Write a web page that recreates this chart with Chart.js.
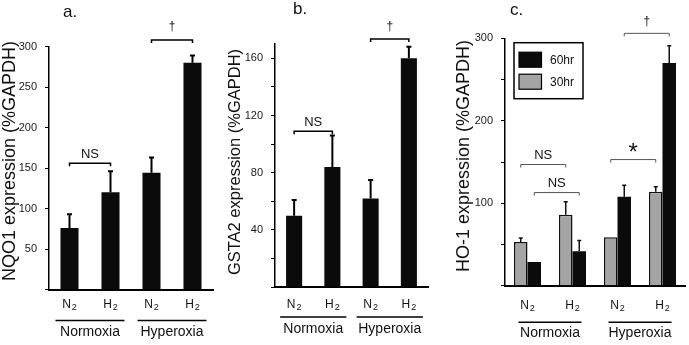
<!DOCTYPE html>
<html lang="en">
<head>
<meta charset="UTF-8">
<title>NQO1, GSTA2 and HO-1 expression</title>
<script src="https://cdn.jsdelivr.net/npm/chart.js"></script>
<style>
    body { margin: 0; background: #fff; }
    #wrap { position: relative; width: 689px; height: 345px; overflow: hidden; }
    #wrap canvas { position: absolute; top: 0; }
</style>
</head>
<body>
<div id="wrap">
    <canvas id="panelA" width="228" height="345" style="left:0"></canvas>
    <canvas id="panelB" width="227" height="345" style="left:228px"></canvas>
    <canvas id="panelC" width="234" height="345" style="left:455px"></canvas>
</div>
<script>
// categories
const conditions = ['N2', 'H2', 'N2', 'H2'];
const groupNames = ['Normoxia', 'Hyperoxia'];

// a. NQO1 (% GAPDH), mean and SEM
const nqo1Mean = [76, 120, 144, 280];
const nqo1Sem = [17, 26, 19, 9];

// b. GSTA2
const gsta2Mean = [50, 84, 62, 160];
const gsta2Sem = [11, 22, 13, 8];

// c. HO-1, two time points
const ho1Mean30 = [53, 86, 59, 114];
const ho1Sem30 = [5, 16, 0, 6];
const ho1Mean60 = [29, 42, 108, 270];
const ho1Sem60 = [0, 13, 14, 21];

// y tick labels shown on each panel
const tickLabelsA = [50, 100, 150, 200, 250, 300];
const tickLabelsB = [40, 80, 120, 160];
const tickLabelsC = [100, 200, 300];

const FONT = '"Liberation Sans", Arial, Helvetica, sans-serif';

// extra drawing per panel (titles, brackets, group labels)
const panels = {
    panelA: {
        yTitle: 'NQO1 expression (%GAPDH)', titleSize: 18, titleX: 10, titleY: 161,
        letter: 'a.', letterX: 63, letterY: 17,
        labelY: 305, lineY: 320.5, groupY: 332, ext: 14,
        errColor: '#000', errWidth: 2, capHalf: 2.5,
        bracketColor: '#000', bracketWidth: 1.5,
        brackets: [
            { ds: 0, from: 0, to: 1, at: 156, text: 'NS', size: 13, dy: 9 },
            { ds: 0, from: 2, to: 3, at: 308, text: '†', size: 12, dy: 13 }
        ]
    },
    panelB: {
        yTitle: 'GSTA2 expression (%GAPDH)', titleSize: 16.5, titleX: 7.5, titleY: 162,
        letter: 'b.', letterX: 65, letterY: 14,
        labelY: 305, lineY: 317, groupY: 329, ext: 14,
        errColor: '#000', errWidth: 2, capHalf: 2.5,
        bracketColor: '#000', bracketWidth: 1.5,
        brackets: [
            { ds: 0, from: 0, to: 1, at: 109, text: 'NS', size: 13, dy: 9 },
            { ds: 0, from: 2, to: 3, at: 173.5, text: '†', size: 12, dy: 12 }
        ]
    },
    panelC: {
        yTitle: 'HO-1 expression (%GAPDH)', titleSize: 18, titleX: 9, titleY: 156,
        letter: 'c.', letterX: 55, letterY: 15,
        labelY: 306, lineY: 322.3, groupY: 333.3, ext: 9,
        errColor: '#111', errWidth: 1.5, capHalf: 2,
        bracketColor: '#555', bracketWidth: 1,
        brackets: [
            { ds: 0, from: 0, to: 1, at: 147, text: 'NS', size: 13, dy: 9 },
            { ds: 1, from: 0, to: 1, at: 113, text: 'NS', size: 13, dy: 9 },
            { ds: 0, from: 2, to: 3, at: 153, text: '*', size: 24, dy: 6 },
            { ds: 1, from: 2, to: 3, at: 306, text: '†', size: 12, dy: 12 }
        ],
        legend: { x: 59, y: 42.7, w: 69, h: 56 }
    }
};

function drawSub(ctx, label, cx, cy) {
    const base = label.slice(0, 1), sub = label.slice(1);
    ctx.font = '12px ' + FONT;
    const wb = ctx.measureText(base).width;
    ctx.font = '9px ' + FONT;
    const ws = ctx.measureText(sub).width;
    const left = cx - (wb + ws + 1) / 2;
    ctx.textAlign = 'left';
    ctx.textBaseline = 'middle';
    ctx.font = '12px ' + FONT;
    ctx.fillText(base, left, cy);
    ctx.font = '9px ' + FONT;
    ctx.fillText(sub, left + wb + 1, cy + 3);
}

const annotate = {
    id: 'annotate',
    afterDatasetsDraw(chart) {
        const p = panels[chart.canvas.id];
        const ctx = chart.ctx;
        const xs = chart.scales.x, ys = chart.scales.y;
        ctx.save();
        ctx.fillStyle = '#111';

        // error bars (upper whisker only)
        chart.data.datasets.forEach((ds, d) => {
            const meta = chart.getDatasetMeta(d);
            ds.data.forEach((v, i) => {
                if (!ds.sem[i]) return;
                const bar = meta.data[i];
                const top = ys.getPixelForValue(v + ds.sem[i]);
                ctx.strokeStyle = p.errColor;
                ctx.lineWidth = p.errWidth;
                ctx.beginPath();
                ctx.moveTo(bar.x, bar.y);
                ctx.lineTo(bar.x, top);
                ctx.moveTo(bar.x - p.capHalf, top);
                ctx.lineTo(bar.x + p.capHalf, top);
                ctx.stroke();
            });
        });

        // significance brackets
        p.brackets.forEach(b => {
            const meta = chart.getDatasetMeta(b.ds);
            const x1 = meta.data[b.from].x, x2 = meta.data[b.to].x;
            const y = ys.getPixelForValue(b.at);
            ctx.strokeStyle = p.bracketColor;
            ctx.lineWidth = p.bracketWidth;
            ctx.beginPath();
            ctx.moveTo(x1, y + 3);
            ctx.lineTo(x1, y);
            ctx.lineTo(x2, y);
            ctx.lineTo(x2, y + 3);
            ctx.stroke();
            ctx.font = b.size + 'px ' + FONT;
            ctx.textAlign = 'center';
            ctx.textBaseline = 'middle';
            ctx.fillText(b.text, (x1 + x2) / 2, y - b.dy);
        });

        // condition labels N2 / H2
        conditions.forEach((c, i) => drawSub(ctx, c, xs.getPixelForValue(i), p.labelY));

        // group lines and names
        groupNames.forEach((g, k) => {
            const xa = xs.getPixelForValue(2 * k), xb = xs.getPixelForValue(2 * k + 1);
            ctx.strokeStyle = '#000';
            ctx.lineWidth = 1.5;
            ctx.beginPath();
            ctx.moveTo(xa - p.ext, p.lineY);
            ctx.lineTo(xb + p.ext, p.lineY);
            ctx.stroke();
            ctx.font = '14px ' + FONT;
            ctx.textAlign = 'center';
            ctx.textBaseline = 'middle';
            ctx.fillText(g, (xa + xb) / 2, p.groupY);
        });

        // panel letter
        ctx.font = '17px ' + FONT;
        ctx.textAlign = 'left';
        ctx.textBaseline = 'alphabetic';
        ctx.fillText(p.letter, p.letterX, p.letterY);

        // y axis title
        ctx.save();
        ctx.translate(p.titleX, p.titleY);
        ctx.rotate(-Math.PI / 2);
        ctx.font = p.titleSize + 'px ' + FONT;
        ctx.textAlign = 'center';
        ctx.textBaseline = 'middle';
        ctx.fillText(p.yTitle, 0, 0);
        ctx.restore();

        // legend box (panel c)
        if (p.legend) {
            const L = p.legend;
            ctx.strokeStyle = '#000';
            ctx.lineWidth = 1.5;
            ctx.strokeRect(L.x, L.y, L.w, L.h);
            const items = chart.data.datasets.slice().reverse();
            items.forEach((ds, k) => {
                const sy = L.y + 9.5 + k * 22;
                ctx.fillStyle = ds.backgroundColor;
                ctx.fillRect(L.x + 5, sy, 22.5, 15);
                ctx.lineWidth = 1.2;
                ctx.strokeRect(L.x + 5, sy, 22.5, 15);
                ctx.fillStyle = '#111';
                ctx.font = '12px ' + FONT;
                ctx.textAlign = 'left';
                ctx.textBaseline = 'middle';
                ctx.fillText(ds.label, L.x + 36, sy + 8);
            });
        }
        ctx.restore();
    }
};

function makeChart(id, datasets, o) {
    return new Chart(document.getElementById(id), {
        type: 'bar',
        data: { labels: conditions, datasets: datasets },
        options: {
            responsive: false,
            animation: false,
            devicePixelRatio: 1,
            layout: { padding: o.padding },
            datasets: { bar: { barPercentage: o.barPct, categoryPercentage: o.catPct } },
            plugins: { legend: { display: false }, tooltip: { enabled: false } },
            scales: {
                x: {
                    grid: { display: false },
                    border: { display: true, color: '#000', width: 2 },
                    ticks: { display: false },
                    afterFit: s => { s.height = o.xHeight; }
                },
                y: {
                    min: 0,
                    max: o.yMax,
                    afterBuildTicks: s => { s.ticks = s.ticks.filter(t => t.value % o.step === 0); },
                    ticks: {
                        stepSize: o.step,
                        autoSkip: false,
                        padding: 8,
                        color: '#1a1a1a',
                        font: { family: FONT, size: 11 },
                        callback: v => o.tickLabels.includes(v) ? v : ''
                    },
                    grid: { drawOnChartArea: false, color: '#000', tickLength: 4, lineWidth: 1 },
                    border: { display: true, color: '#000', width: 1.5 },
                    afterFit: s => { s.width = o.yWidth; }
                }
            }
        },
        plugins: [annotate]
    });
}

makeChart('panelA', [
    { label: 'NQO1', data: nqo1Mean, sem: nqo1Sem, backgroundColor: '#0b0b0b' }
], { padding: { left: 0, right: 15, top: 46.5, bottom: 0 }, yWidth: 49, xHeight: 55.5,
     yMax: 300, step: 50, tickLabels: tickLabelsA, barPct: 0.44, catPct: 1 });

makeChart('panelB', [
    { label: 'GSTA2', data: gsta2Mean, sem: gsta2Sem, backgroundColor: '#0b0b0b' }
], { padding: { left: 0, right: 27, top: 44, bottom: 0 }, yWidth: 47, xHeight: 57.8,
     yMax: 170, step: 20, tickLabels: tickLabelsB, barPct: 0.42, catPct: 1 });

makeChart('panelC', [
    { label: '30hr', data: ho1Mean30, sem: ho1Sem30, backgroundColor: '#a4a4a4', borderColor: '#111', borderWidth: 1.5 },
    { label: '60hr', data: ho1Mean60, sem: ho1Sem60, backgroundColor: '#0b0b0b' }
], { padding: { left: 0, right: 4, top: 38.3, bottom: 0 }, yWidth: 50, xHeight: 59.2,
     yMax: 300, step: 50, tickLabels: tickLabelsC, barPct: 1, catPct: 0.6 });
</script>
</body>
</html>
